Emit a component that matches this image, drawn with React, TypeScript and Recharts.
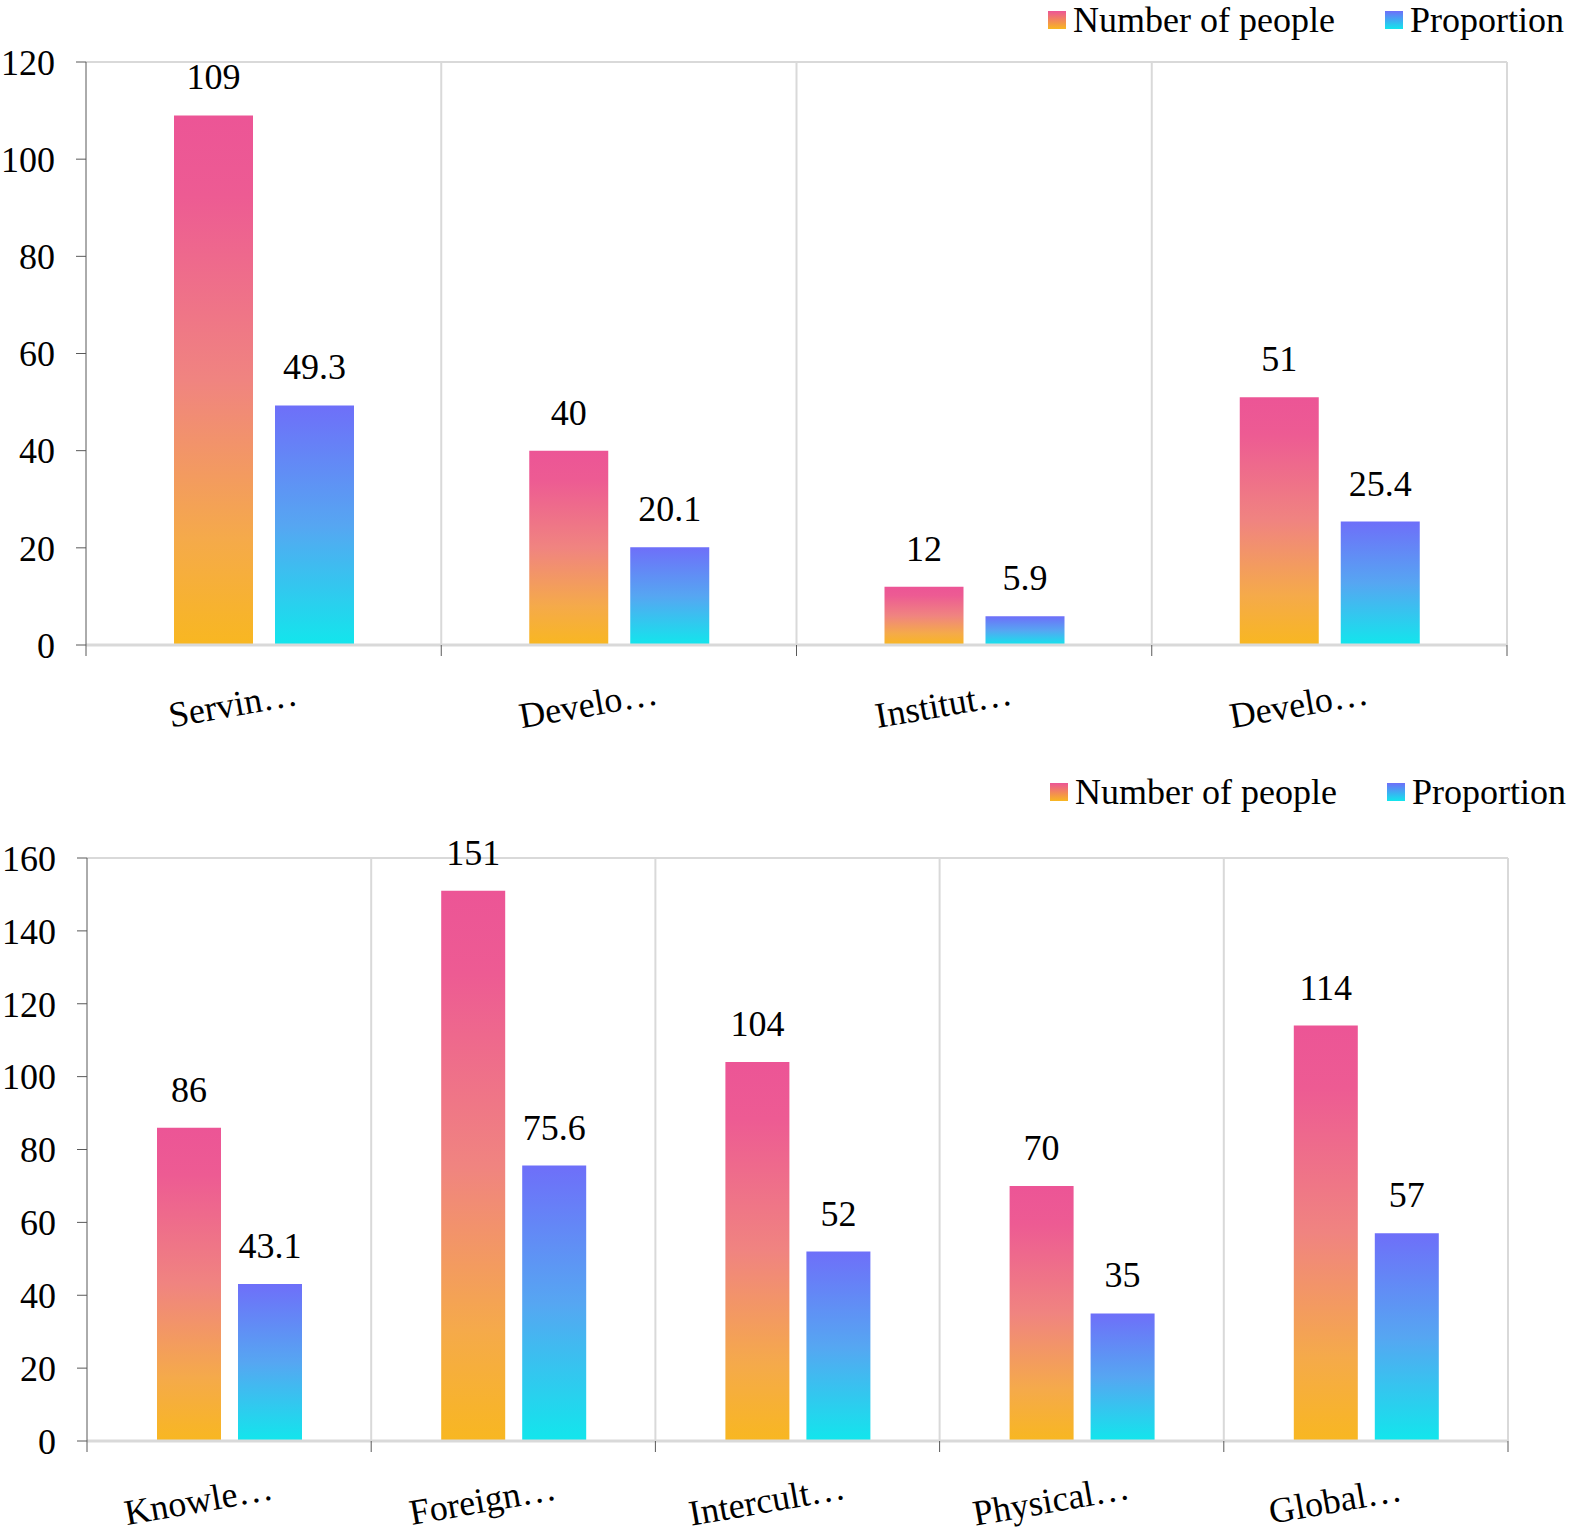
import { BarChart, Bar, XAxis, YAxis, CartesianGrid, LabelList } from "recharts"

// top panel
const TOP_CATEGORIES = ["Servin…", "Develo…", "Institut…", "Develo…"]
const TOP_PEOPLE = [109, 40, 12, 51]
const TOP_PROPORTION = [49.3, 20.1, 5.9, 25.4]
const TOP_TICKS = [0, 20, 40, 60, 80, 100, 120]

// bottom panel
const BOTTOM_CATEGORIES = ["Knowle…", "Foreign…", "Intercult…", "Physical…", "Global…"]
const BOTTOM_PEOPLE = [86, 151, 104, 70, 114]
const BOTTOM_PROPORTION = [43.1, 75.6, 52, 35, 57]
const BOTTOM_TICKS = [0, 20, 40, 60, 80, 100, 120, 140, 160]

const FONT = "'Liberation Serif', 'Times New Roman', serif"
const FS = 36
const GRID = "#d9d9d9"
const AXIS_DARK = "#595959"

function rows(cats: string[], people: number[], prop: number[]) {
  return cats.map((c, i) => ({ id: i, name: c, people: people[i], proportion: prop[i] }))
}

function CategoryTick(props: any) {
  const { x, y, payload, width, visibleTicksCount, index } = props
  const band = width / visibleTicksCount
  const lx = x - 30
  const ly = y + 55
  return (
    <g>
      <line x1={x - band / 2} x2={x - band / 2} y1={y - 8} y2={y + 3} stroke={AXIS_DARK} strokeWidth={1} />
      {index === visibleTicksCount - 1 && (
        <line x1={x + band / 2} x2={x + band / 2} y1={y - 8} y2={y + 3} stroke={AXIS_DARK} strokeWidth={1} />
      )}
      <text
        x={lx}
        y={ly}
        textAnchor="middle"
        dominantBaseline="middle"
        transform={`rotate(-10 ${lx} ${ly})`}
        fontFamily={FONT}
        fontSize={FS}
        fill="#000"
      >
        {payload.value}
      </text>
    </g>
  )
}

function Legend({ left, top }: { left: number; top: number }) {
  const item = (label: string, bg: string, x: number) => (
    <span style={{ position: "absolute", left: x, top: 0, display: "inline-flex", alignItems: "center" }}>
      <span style={{ display: "inline-block", width: 18, height: 18, background: bg, marginRight: 7 }} />
      <span>{label}</span>
    </span>
  )
  return (
    <div
      style={{
        position: "absolute", left, top, fontFamily: FONT, fontSize: FS, color: "#000",
        whiteSpace: "nowrap", lineHeight: "40px",
      }}
    >
      {item("Number of people", "linear-gradient(#ec5596, #f8b721)", 0)}
      {item("Proportion", "linear-gradient(#6e6ff9, #12e6ec)", 337)}
    </div>
  )
}

function Panel({
  data, ticks, max, height, marginTop, marginRight, xHeight, yWidth, barSize, barGap, gid,
}: {
  data: any[]; ticks: number[]; max: number; height: number; marginTop: number; marginRight: number
  xHeight: number; yWidth: number; barSize: number; barGap: number; gid: string
}) {
  const n = data.length
  const labelStyle = { fontFamily: FONT, fontSize: FS, fill: "#000" }
  return (
    <BarChart
      width={1583}
      height={height}
      data={data}
      margin={{ top: marginTop, right: marginRight, left: 0, bottom: 0 }}
      barGap={barGap}
      barSize={barSize}
    >
      <defs>
        <linearGradient id={`${gid}-people`} x1="0" y1="0" x2="0" y2="1">
          <stop offset="0%" stopColor="#ec5596" />
          <stop offset="15%" stopColor="#ed5b93" />
          <stop offset="50%" stopColor="#f08480" />
          <stop offset="80%" stopColor="#f5aa4a" />
          <stop offset="100%" stopColor="#f8b721" />
        </linearGradient>
        <linearGradient id={`${gid}-prop`} x1="0" y1="0" x2="0" y2="1">
          <stop offset="0%" stopColor="#6e6ff9" />
          <stop offset="50%" stopColor="#56a6f2" />
          <stop offset="100%" stopColor="#12e6ec" />
        </linearGradient>
      </defs>
      <CartesianGrid
        stroke={GRID}
        strokeWidth={2}
        horizontalCoordinatesGenerator={({ offset }: any) => [offset.top]}
        verticalCoordinatesGenerator={({ offset }: any) =>
          Array.from({ length: n }, (_, i) => offset.left + ((i + 1) * offset.width) / n)
        }
      />
      <XAxis
        dataKey="id"
        height={xHeight}
        axisLine={{ stroke: GRID, strokeWidth: 3 }}
        tickLine={false}
        interval={0}
        tick={(p: any) => <CategoryTick {...p} payload={{ ...p.payload, value: data[p.payload.value].name }} />}
      />
      <YAxis
        width={yWidth}
        domain={[0, max]}
        ticks={ticks}
        interval={0}
        axisLine={{ stroke: AXIS_DARK, strokeWidth: 1 }}
        tickLine={{ stroke: AXIS_DARK, strokeWidth: 1 }}
        tickSize={10}
        tickMargin={21}
        tick={labelStyle}
      />
      <Bar dataKey="people" fill={`url(#${gid}-people)`} isAnimationActive={false}>
        <LabelList dataKey="people" position="top" offset={26} style={labelStyle} />
      </Bar>
      <Bar dataKey="proportion" fill={`url(#${gid}-prop)`} isAnimationActive={false}>
        <LabelList dataKey="proportion" position="top" offset={26} style={labelStyle} />
      </Bar>
    </BarChart>
  )
}

export default function App() {
  return (
    <div style={{ position: "absolute", left: 0, top: 0, width: 1583, height: 1533, background: "#fff", overflow: "hidden" }}>
      <div style={{ position: "absolute", left: 0, top: 0 }}>
        <Panel
          data={rows(TOP_CATEGORIES, TOP_PEOPLE, TOP_PROPORTION)}
          ticks={TOP_TICKS} max={120} height={740} marginTop={62} marginRight={76} xHeight={95}
          yWidth={86} barSize={79} barGap={22} gid="top"
        />
      </div>
      <Legend left={1048} top={0} />
      <div style={{ position: "absolute", left: 0, top: 770 }}>
        <Panel
          data={rows(BOTTOM_CATEGORIES, BOTTOM_PEOPLE, BOTTOM_PROPORTION)}
          ticks={BOTTOM_TICKS} max={160} height={763} marginTop={88} marginRight={75} xHeight={92}
          yWidth={87} barSize={64} barGap={17} gid="bot"
        />
      </div>
      <Legend left={1050} top={772} />
    </div>
  )
}
